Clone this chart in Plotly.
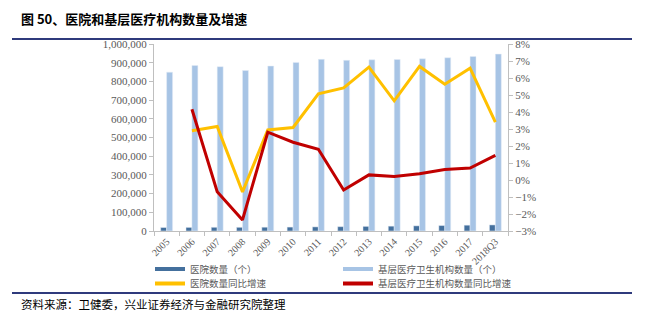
import plotly.graph_objects as go

categories = ["2005", "2006", "2007", "2008", "2009", "2010", "2011", "2012",
              "2013", "2014", "2015", "2016", "2017", "2018Q3"]
hospitals = [18703, 19246, 19852, 19712, 20291, 20918, 21979, 23170,
             24709, 25860, 27587, 29140, 31056, 32476]
primary = [849488, 884818, 878686, 858015, 882153, 901709, 918003, 912620,
           915368, 917335, 920770, 926518, 933024, 946000]
hosp_growth = [None, 2.9, 3.15, -0.7, 2.94, 3.09, 5.07, 5.42, 6.64, 4.66, 6.68, 5.63, 6.58, 3.4]
prim_growth = [None, 4.16, -0.69, -2.35, 2.81, 2.22, 1.81, -0.59, 0.30, 0.21, 0.37, 0.62, 0.70, 1.45]

names = ["医院数量（个）", "基层医疗卫生机构数量（个）", "医院数量同比增速", "基层医疗卫生机构数量同比增速"]
c_dark, c_light, c_yel, c_red = "#44709D", "#A7C4E5", "#FFC000", "#C00000"

W, H = 647, 324
L, R, T, B = 154, 139, 44, 93
PW, PH = W - L - R, H - T - B


def px_x(p):
    return (p - L) / PW


def px_y(p):
    return (H - B - p) / PH


fig = go.Figure()
fig.add_bar(x=categories, y=hospitals, marker_color=c_dark, name=names[0], showlegend=False)
fig.add_bar(x=categories, y=primary, marker_color=c_light, name=names[1], showlegend=False)
fig.add_scatter(x=categories, y=hosp_growth, yaxis="y2", mode="lines",
                line=dict(color=c_yel, width=3), name=names[2], showlegend=False)
fig.add_scatter(x=categories, y=prim_growth, yaxis="y2", mode="lines",
                line=dict(color=c_red, width=3), name=names[3], showlegend=False)
# legend entries (two rows, two legends)
for i, (nm, col) in enumerate(zip(names, [c_dark, c_light, c_yel, c_red])):
    fig.add_scatter(x=[None], y=[None], mode="lines", line=dict(color=col, width=4),
                    name=nm, showlegend=True, legend="legend" if i in (0, 1) else "legend2")

legfont = dict(family="Noto Sans CJK SC", size=9.5, color="#595959")
leg_common = dict(orientation="h", xanchor="left", yanchor="middle", font=legfont,
                  entrywidth=143, itemwidth=30, bgcolor="rgba(0,0,0,0)",
                  borderwidth=0, tracegroupgap=0)

tickfont = dict(family="Liberation Serif, Times New Roman, serif", size=11, color="#595959")
axcol = "#BFBFBF"
fig.update_layout(
    width=W, height=H,
    margin=dict(l=L, r=R, t=T, b=B, autoexpand=False),
    paper_bgcolor="white", plot_bgcolor="white",
    barmode="group", bargap=0.53, bargroupgap=0,
    showlegend=True,
    legend=dict(x=px_x(150), y=px_y(269), **leg_common),
    legend2=dict(x=px_x(150), y=px_y(283.5), **leg_common),
    xaxis=dict(type="category", showline=True, linecolor=axcol, linewidth=1,
               ticks="outside", tickson="boundaries", ticklen=4, tickcolor=axcol,
               tickangle=-45, tickfont=dict(family="Liberation Serif", size=10, color="#595959"),
               showgrid=False),
    yaxis=dict(range=[0, 1000000], dtick=100000, tickformat=",", showline=True,
               linecolor=axcol, ticks="outside", ticklen=4, tickcolor=axcol,
               showgrid=False, zeroline=False, tickfont=tickfont),
    yaxis2=dict(range=[-3, 8], dtick=1, ticksuffix="%", overlaying="y", side="right",
                showline=True, linecolor=axcol, ticks="outside", ticklen=4, tickcolor=axcol,
                showgrid=False, zeroline=False, tickfont=tickfont),
    font=dict(family="Noto Sans CJK SC"),
)

navy = "#2F3A7C"
for yp in (39, 293):
    fig.add_shape(type="line", xref="paper", yref="paper",
                  x0=px_x(12), x1=px_x(632), y0=px_y(yp), y1=px_y(yp),
                  line=dict(color=navy, width=2))
fig.add_annotation(text="<b>图 50、医院和基层医疗机构数量及增速</b>", xref="paper", yref="paper",
                   x=px_x(19), y=px_y(18), xanchor="left", yanchor="middle", showarrow=False,
                   font=dict(family="Noto Sans CJK SC", size=13, color="#000000"))
fig.add_annotation(text="资料来源：卫健委，兴业证券经济与金融研究院整理", xref="paper", yref="paper",
                   x=px_x(19), y=px_y(304), xanchor="left", yanchor="middle", showarrow=False,
                   font=dict(family="Noto Sans CJK SC", size=11.5, color="#000000"))

fig.write_html("out.html")
